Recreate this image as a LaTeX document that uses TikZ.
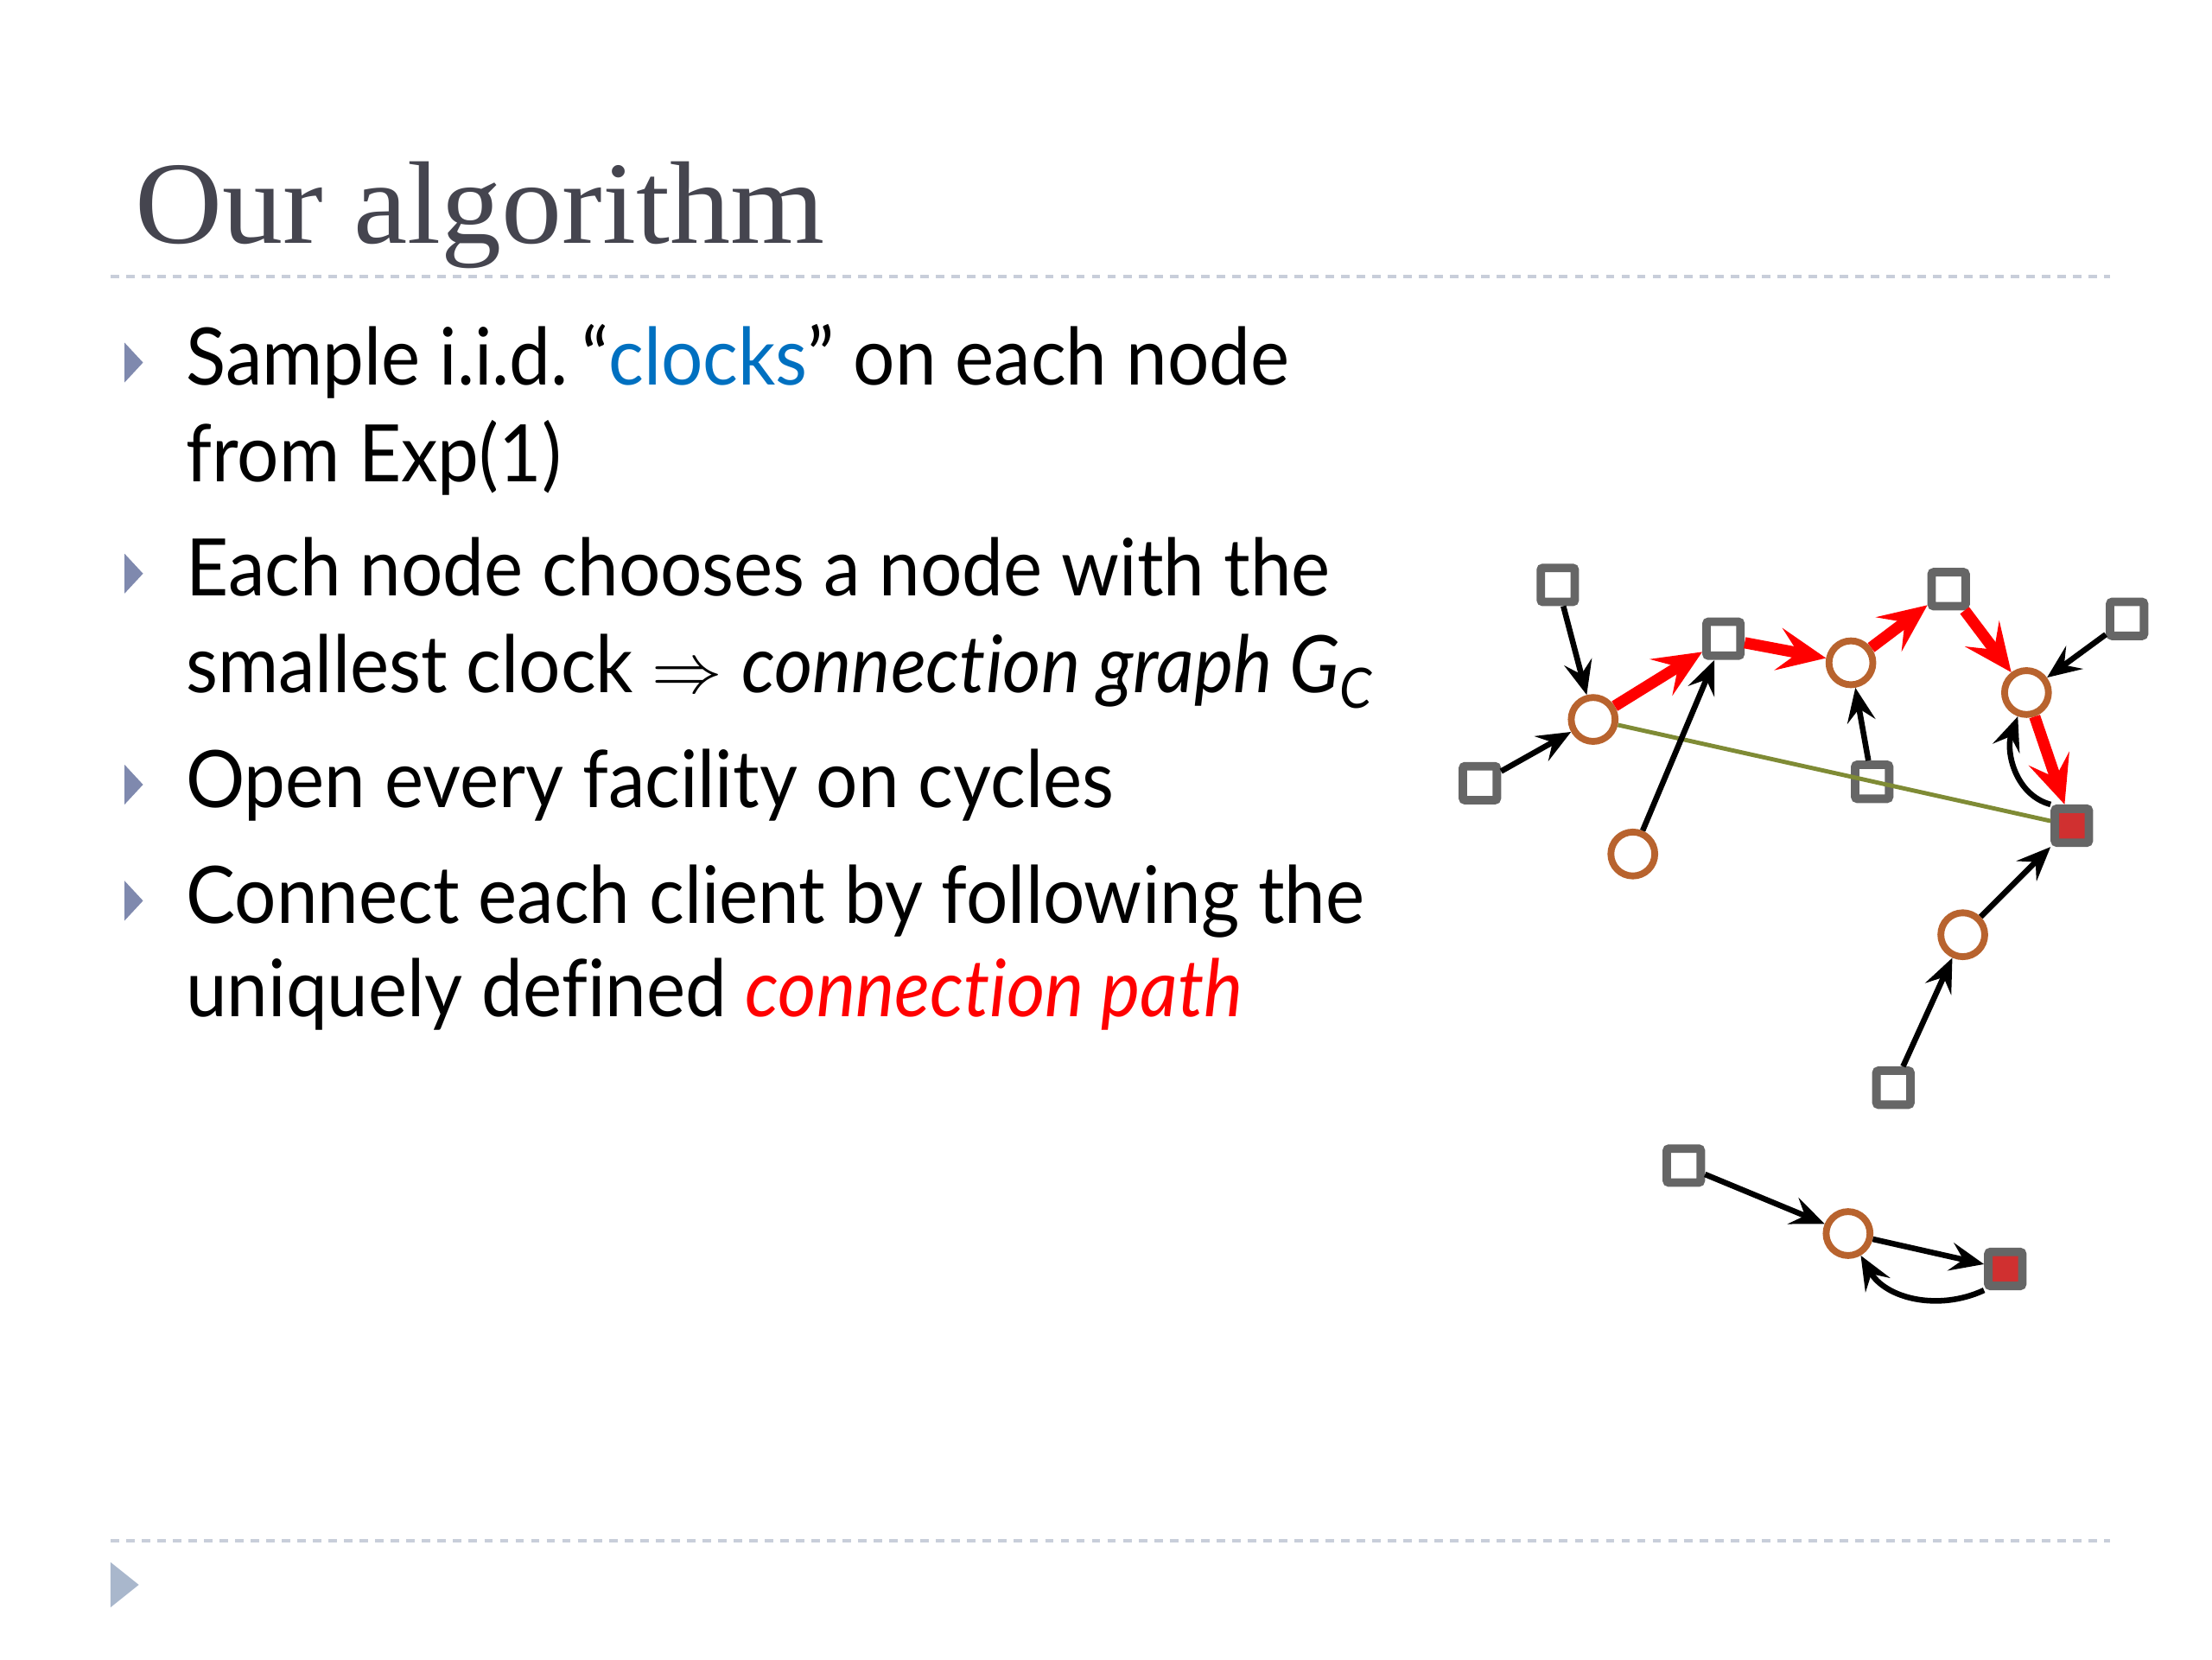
\documentclass[tikz,border=0pt]{standalone}
\usepackage{fontspec}
\setmainfont{Lato}[FakeStretch=0.93, Ligatures=NoCommon]
\newfontfamily\titlefont{Liberation Serif}[FakeStretch=1.03]
\usetikzlibrary{arrows.meta}
\definecolor{titlegray}{HTML}{45454F}
\definecolor{clockblue}{HTML}{0070C0}
\definecolor{pathred}{HTML}{FF0000}
\definecolor{bulletblue}{HTML}{7F89AE}
\definecolor{dashgray}{HTML}{C8CEDA}
\definecolor{sqgray}{HTML}{666666}
\definecolor{circbrown}{HTML}{B8632E}
\definecolor{facred}{HTML}{D03030}
\definecolor{olive}{HTML}{7F8B35}
\definecolor{cornerblue}{HTML}{A9B7CC}
\tikzset{
  sqnode/.style={rectangle, draw=sqgray, line width=3pt, fill=white, minimum size=12pt, inner sep=0pt, rounded corners=0.8pt},
  facnode/.style={sqnode, fill=facred},
  circnode/.style={circle, draw=circbrown, line width=2.4pt, fill=white, minimum width=14.5pt, minimum height=15.5pt, inner sep=0pt},
  blk/.style={line width=2pt, -{Stealth[length=12pt,width=10pt,inset=4.5pt]}},
  redarr/.style={draw=pathred, line width=4pt, -{Stealth[length=17pt,width=15pt,inset=7pt]}},
  oliveline/.style={draw=olive, line width=1.5pt},
  bulletmark/.style={fill=bulletblue, draw=none},
  txt/.style={anchor=base west, inner sep=0pt, font=\fontsize{28}{34}\selectfont},
}
\begin{document}
\begin{tikzpicture}[x=0.5pt, y=-0.5pt]
\useasboundingbox (0,0) rectangle (1562,1172);
% title
\node[anchor=base west, inner sep=0pt, text=titlegray, font=\titlefont\fontsize{41.5}{46}\selectfont] (title) at (95,172) {Our algorithm};
% dashed rules
\draw[dashgray, line width=1.2pt, dash pattern=on 3pt off 2.5pt] (78,195) -- (1490,195);
\draw[dashgray, line width=1.2pt, dash pattern=on 3pt off 2.5pt] (78,1088) -- (1490,1088);
\fill[cornerblue] (78,1103) -- (98,1119) -- (78,1135) -- cycle;
% bullets
\foreach \y in {256,405,554,636} {
  \fill[bulletmark] (88,\y-14) -- (101,\y) -- (88,\y+14) -- cycle;
}
% text
\node[txt] (l1) at (131,272) {Sample i.i.d.\,``\textcolor{clockblue}{clocks}'' on each node};
\node[txt] (l2) at (131,340) {from Exp(1)};
\node[txt] (l3) at (131,421) {Each node chooses a node with the};
\node[txt] (l4) at (131,489) {smallest clock $\Rightarrow$ \textit{connection graph G\textsubscript{C}}};
\node[txt] (l5) at (131,570) {Open every facility on cycles};
\node[txt] (l6) at (131,652) {Connect each client by following the};
\node[txt] (l7) at (131,718) {uniquely defined \textcolor{pathred}{\textit{connection path}}};
% graph nodes
\node[sqnode] (S1) at (1100,413) {};
\node[sqnode] (S2) at (1217,451) {};
\node[sqnode] (S3) at (1376,416) {};
\node[sqnode] (S4) at (1502,437) {};
\node[sqnode] (S5) at (1045,553) {};
\node[sqnode] (S6) at (1322,552) {};
\node[facnode] (S7) at (1463,583) {};
\node[sqnode] (S8) at (1337,768) {};
\node[sqnode] (S9) at (1189,823) {};
\node[facnode] (S10) at (1416,896) {};
\node[circnode] (C1) at (1125,508) {};
\node[circnode] (C2) at (1307,468) {};
\node[circnode] (C3) at (1431,489) {};
\node[circnode] (C4) at (1153,603) {};
\node[circnode] (C5) at (1386,660) {};
\node[circnode] (C6) at (1305,871) {};
% olive line over nodes
\draw[oliveline] (C1) -- (S7);
% black arrows
\draw[blk] (S1) -- (C1);
\draw[blk] (S5) -- (C1);
\draw[blk] (C4) -- (S2);
\draw[blk] (S6) -- (C2);
\draw[blk] (S4) -- (C3);
\draw[blk] (S7.north west) to[out=165, in=250] (C3);
\draw[blk] (C5) -- (S7);
\draw[blk] (S8) -- (C5);
\draw[blk] (S9) -- (C6);
\draw[blk] (C6) -- (S10);
\draw[blk] (S10.south west) to[out=205, in=300] (C6);
% red path
\draw[redarr] (C1) -- (S2);
\draw[redarr] (S2) -- (C2);
\draw[redarr] (C2) -- (S3);
\draw[redarr] (S3) -- (C3);
\draw[redarr] (C3) -- (S7);
\end{tikzpicture}
\end{document}
